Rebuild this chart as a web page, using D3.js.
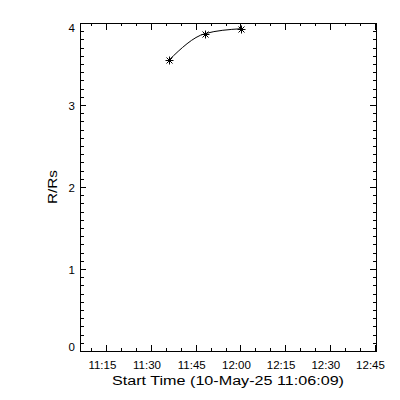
<!DOCTYPE html>
<html>
<head>
<meta charset="utf-8">
<script src="https://cdn.jsdelivr.net/npm/d3@7"></script>
<style>
  body { margin: 0; background: #fff; }
  text { font-family: "Liberation Sans", Arial, sans-serif; font-size: 11.5px; fill: #000; }
  .axis line, .frame { stroke: #000; stroke-width: 1; shape-rendering: crispEdges; }
</style>
</head>
<body>
<script>
// Height-time data (LASCO style)
const times = ['2025-05-10T11:36:05Z', '2025-05-10T11:48:05Z', '2025-05-10T12:00:05Z'];
const heights = [3.55, 3.87, 3.93];

// Axis ranges and ticks
const xStart = '2025-05-10T11:06:09Z';
const xEnd = '2025-05-10T12:45:30Z';
const yTicks = [0, 1, 2, 3, 4];

const width = 400;
const height = 400;
const margin = { top: 23, right: 24, bottom: 49, left: 80 };

const svg = d3.select('body').append('svg')
    .attr('width', width)
    .attr('height', height);

const x = d3.scaleUtc()
    .domain([new Date(xStart), new Date(xEnd)])
    .range([margin.left, width - margin.right]);

const y = d3.scaleLinear()
    .domain([0, 4])
    .range([height - margin.bottom, margin.top]);

const x0 = margin.left, x1 = width - margin.right;
const y0 = height - margin.bottom, y1 = margin.top;

//Tick positions
const xMajor = x.ticks(d3.utcMinute.every(15));
const xMinor = x.ticks(d3.utcMinute.every(5));
const yMinor = d3.range(0, 40.5).map(d => d / 10);

const ax = svg.append('g').attr('class', 'axis');

//bottom and top ticks
xMinor.forEach(t => {
    const px = Math.round(x(t)) + 0.5;
    const major = xMajor.some(m => +m == +t);
    const len = major ? 6.5 : 3.3;
    ax.append('line').attr('x1', px).attr('x2', px).attr('y1', y0).attr('y2', y0 - len);
    ax.append('line').attr('x1', px).attr('x2', px).attr('y1', y1).attr('y2', y1 + len);
});

//left and right ticks
yMinor.forEach(v => {
    const py = Math.round(y(v)) + 0.5;
    const major = Math.abs(v - Math.round(v)) < 1e-6;
    const len = major ? 6 : 3.5;
    ax.append('line').attr('x1', x0).attr('x2', x0 + len).attr('y1', py).attr('y2', py);
    ax.append('line').attr('x1', x1).attr('x2', x1 - len).attr('y1', py).attr('y2', py);
});

//frame
svg.append('rect')
    .attr('class', 'frame')
    .attr('x', x0 + 0.5)
    .attr('y', y1 + 0.5)
    .attr('width', x1 - x0)
    .attr('height', y0 - y1)
    .attr('fill', 'none');

//tick labels
svg.selectAll('text.xlab')
    .data(xMajor)
    .enter()
    .append('text')
    .attr('class', 'xlab')
    .attr('x', d => x(d) - 4)
    .attr('y', y0 + 18)
    .style('text-anchor', 'middle')
    .text(d => d3.utcFormat('%H:%M')(d));

svg.selectAll('text.ylab')
    .data(yTicks)
    .enter()
    .append('text')
    .attr('class', 'ylab')
    .attr('x', x0 - 5)
    .attr('y', d => Math.min(Math.max(y(d) + 1, y1 + 5), y0 - 4))
    .attr('dy', '0.36em')
    .style('text-anchor', 'end')
    .text(d => d);

//axis titles
svg.append('text')
    .attr('x', (x0 + x1) / 2)
    .attr('y', y0 + 34)
    .attr('textLength', 232)
    .attr('lengthAdjust', 'spacingAndGlyphs')
    .style('font-size', '12.5px')
    .style('text-anchor', 'middle')
    .text('Start Time (10-May-25 11:06:09)');

svg.append('text')
    .attr('transform', `translate(57, ${(y0 + y1) / 2}) rotate(-90)`)
    .attr('textLength', 34)
    .attr('lengthAdjust', 'spacingAndGlyphs')
    .style('font-size', '12.5px')
    .style('text-anchor', 'middle')
    .text('R/Rs');

//curve through points
const pts = times.map((t, i) => ({ t: new Date(t), r: heights[i] }));

svg.append('path')
    .datum(pts)
    .attr('fill', 'none')
    .attr('stroke', '#000')
    .attr('stroke-width', 1)
    .attr('d', d3.line().x(d => x(d.t)).y(d => y(d.r)).curve(d3.curveMonotoneX));

//asterisk symbols
const s = 4;
const star = svg.selectAll('g.star')
    .data(pts)
    .enter()
    .append('g')
    .attr('class', 'star')
    .attr('transform', d => `translate(${Math.round(x(d.t)) + 0.5}, ${Math.round(y(d.r)) + 0.5})`)
    .attr('stroke', '#000')
    .attr('stroke-width', 1);

[[-s, 0, s, 0], [0, -s, 0, s], [-s * 0.75, -s * 0.75, s * 0.75, s * 0.75], [-s * 0.75, s * 0.75, s * 0.75, -s * 0.75]]
    .forEach(c => {
        star.append('line')
            .attr('x1', c[0]).attr('y1', c[1])
            .attr('x2', c[2]).attr('y2', c[3]);
    });
</script>
</body>
</html>
